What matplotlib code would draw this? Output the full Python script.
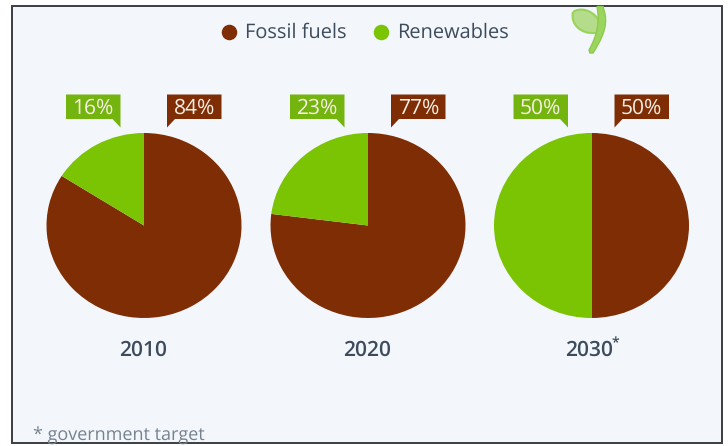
import matplotlib
matplotlib.use("Agg")
import matplotlib.pyplot as plt
from matplotlib.patches import PathPatch, Polygon, Rectangle
from matplotlib.path import Path

plt.rcParams['font.family'] = ['Open Sans', 'DejaVu Sans']
plt.rcParams['text.hinting'] = 'none'
plt.rcParams['text.hinting_factor'] = 1

years = ["2010", "2020", "2030*"]
fossil = [84, 77, 50]
renewables = [16, 23, 50]
series_names = ["Fossil fuels", "Renewables"]

BROWN = "#7f2d04"
GREEN = "#7ac403"
BOX_GREEN = "#74b40e"
BG = "#f3f7fc"
TEXT = "#3d4c5c"

W, H = 728, 446
fig = plt.figure(figsize=(W / 100, H / 100), dpi=100, facecolor="white")

# overlay in pixel coordinates, y pointing down
bg = fig.add_axes([0, 0, 1, 1])
bg.set_xlim(0, W)
bg.set_ylim(H, 0)
bg.axis("off")
bg.add_patch(Rectangle((11.5, 5.5), 710.5, 437.5, fc=BG, ec="#3a3d42", lw=1.4))

centers = [144, 368, 591.5]
CY = 225.5
RX, RY = 97.5, 92.5


def callout(x0, text, color, tail_right):
    x1 = x0 + 54.5
    y0, y1 = 94.5, 119
    if tail_right:
        pts = [(x0, y0), (x1, y0), (x1, 127.5), (x1 - 8, y1), (x0, y1)]
    else:
        pts = [(x0, y0), (x1, y0), (x1, y1), (x0 + 8, y1), (x0, 127.5)]
    bg.add_patch(Polygon(pts, closed=True, fc=color, ec="none", zorder=3))
    bg.text((x0 + x1) / 2, 108, text, color="#f8efe6", fontsize=15,
            ha="center", va="center", zorder=4)


for cx, year, f, r in zip(centers, years, fossil, renewables):
    ax = fig.add_axes([(cx - RX) / W, 1 - (CY + RY) / H, 2 * RX / W, 2 * RY / H])
    ax.pie([f, r], colors=[BROWN, GREEN], startangle=90, counterclock=False,
           radius=1, wedgeprops={"linewidth": 0})
    ax.set_aspect("auto")
    ax.set_xlim(-1, 1)
    ax.set_ylim(-1, 1)
    ax.patch.set_alpha(0)

    callout(cx - 78, f"{r}%", BOX_GREEN, True)
    callout(cx + 23, f"{f}%", BROWN, False)

    label = year.replace("*", "")
    bg.text(cx - 0.5 if label != "2030" else cx - 2.5, 350, label, color=TEXT,
            fontsize=15, fontweight="semibold", ha="center", va="center")
    if year.endswith("*"):
        bg.text(cx + 24, 344, "*", color=TEXT, fontsize=10, fontweight="semibold",
                ha="center", va="center")

# legend
bg.scatter([229], [31.5], s=125, color=BROWN, linewidths=0)
bg.text(245, 32.5, series_names[0], color=TEXT, fontsize=14.6, ha="left", va="center")
bg.scatter([381], [31.5], s=125, color=GREEN, linewidths=0)
bg.text(397, 32.5, series_names[1], color=TEXT, fontsize=14.6, ha="left", va="center")

# leaf logo cut off by the top edge
leaf = Path(
    [(573, 12), (580, 7), (592, 10), (598, 19), (602, 27), (600, 34), (594, 33),
     (582, 34), (570, 25), (573, 12)],
    [Path.MOVETO, Path.CURVE4, Path.CURVE4, Path.CURVE4, Path.CURVE4, Path.CURVE4,
     Path.CURVE4, Path.CURVE4, Path.CURVE4, Path.CURVE4],
)
bg.add_patch(PathPatch(leaf, fc="#b5dc8a", ec="#9ad35a", lw=1.5))
stem = Path(
    [(597, 6.5), (600, 22), (597, 36), (589, 50), (590, 53), (593, 53), (600, 42), (608, 28), (605, 14), (603, 6.5), (597, 6.5)],
    [Path.MOVETO, Path.CURVE4, Path.CURVE4, Path.CURVE4, Path.LINETO, Path.LINETO,
     Path.CURVE4, Path.CURVE4, Path.CURVE4, Path.LINETO, Path.CLOSEPOLY],
)
bg.add_patch(PathPatch(stem, fc="#9bd560", ec="#8ccb4a", lw=1))

# footnote sits right on the bottom border
bg.text(33, 436, "* government target", color="#76838f", fontsize=12.75,
        ha="left", va="center")

fig.savefig("out.png", dpi=100)
